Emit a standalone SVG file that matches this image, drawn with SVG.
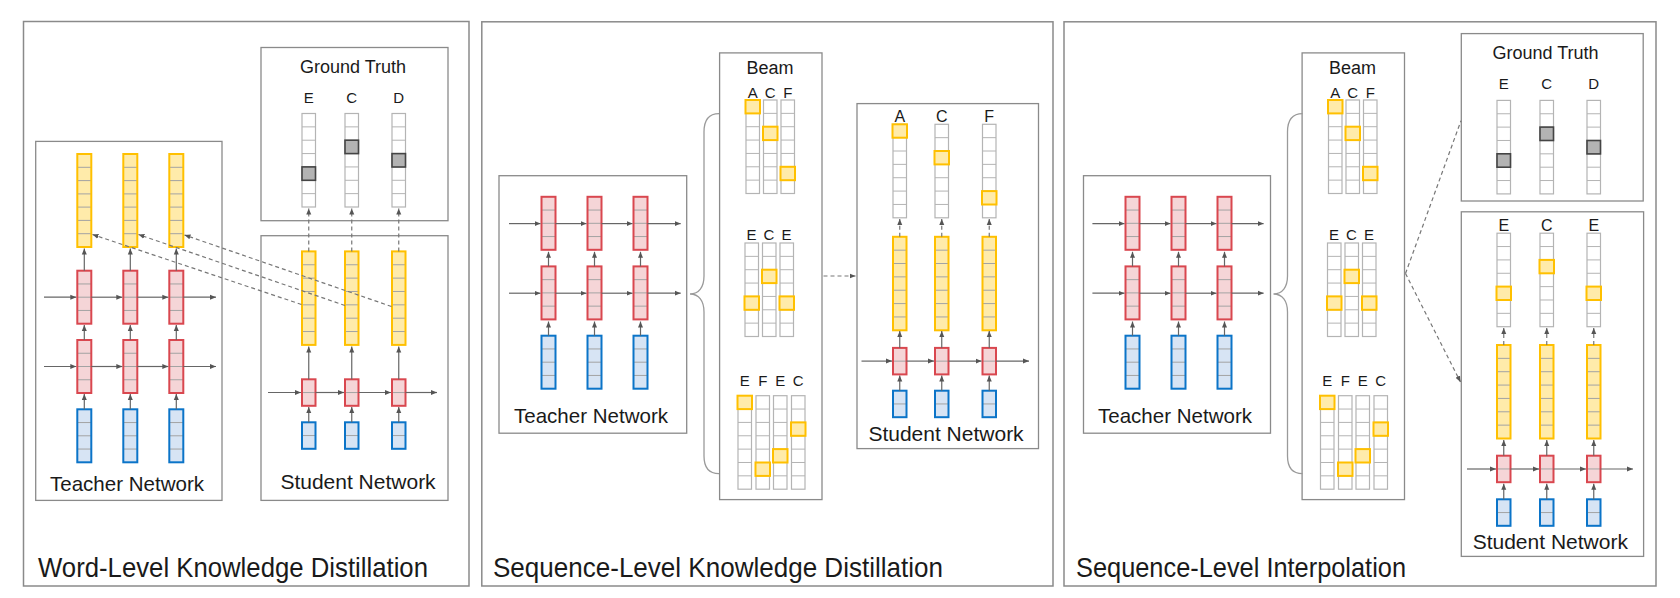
<svg xmlns="http://www.w3.org/2000/svg" xmlns:xlink="http://www.w3.org/1999/xlink" width="1680" height="598" viewBox="0 0 1680 598">
<style>
.yf{fill:#FFEBAA}.yo{fill:none;stroke:#FFC000;stroke-width:2}
.rf{fill:#F5D5D7}.ro{fill:none;stroke:#D9474F;stroke-width:2}
.bf{fill:#D7E4F4}.bo{fill:none;stroke:#0B74C8;stroke-width:2}
.cl{stroke:#a3a3a3;stroke-width:1;fill:none}
.gc{fill:#fff;stroke:#b4b4b4;stroke-width:1.2}
.gl{stroke:#b4b4b4;stroke-width:1;fill:none}
.hl{fill:#FFEBAA;stroke:#FFC000;stroke-width:2}
.gf{fill:#b3b3b3;stroke:#444;stroke-width:1.6}
.box{fill:#fff;stroke:#8a8a8a;stroke-width:1.3}
.pan{fill:#fff;stroke:#8a8a8a;stroke-width:1.5}
.arr{stroke:#666;stroke-width:1.2;fill:none;marker-end:url(#ah)}
.dash{stroke:#777;stroke-width:1.2;stroke-dasharray:4 3;fill:none}
.darr{stroke:#777;stroke-width:1.2;stroke-dasharray:4 3;fill:none;marker-end:url(#ah)}
.brace{stroke:#9a9a9a;stroke-width:1.3;fill:none}
text{font-family:"Liberation Sans",Arial,sans-serif;fill:#1a1a1a;text-anchor:middle}
.t18{font-size:18px}.t15{font-size:15px}.t16{font-size:16px}.t21{font-size:21px}
.title{font-size:28px;text-anchor:start}
</style>
<defs>
<marker id="ah" markerUnits="userSpaceOnUse" markerWidth="7" markerHeight="6" refX="6" refY="3" orient="auto"><path d="M0,0.5 L6,3 L0,5.5z" fill="#555"/></marker>
<g id="ty"><rect width="14" height="93" class="yf"/><path class="cl" d="M0 13.3H14M0 26.6H14M0 39.9H14M0 53.1H14M0 66.4H14M0 79.7H14"/><rect width="14" height="93" class="yo"/></g>
<g id="tr"><rect width="14" height="53" class="rf"/><path class="cl" d="M0 13.25H14M0 26.5H14M0 39.75H14"/><rect width="14" height="53" class="ro"/></g>
<g id="tb"><rect width="14" height="53" class="bf"/><path class="cl" d="M0 13.25H14M0 26.5H14M0 39.75H14"/><rect width="14" height="53" class="bo"/></g>
<g id="sy"><rect width="13.5" height="93.5" class="yf"/><path class="cl" d="M0 13.36H13.5M0 26.71H13.5M0 40.07H13.5M0 53.43H13.5M0 66.79H13.5M0 80.14H13.5"/><rect width="13.5" height="93.5" class="yo"/></g>
<g id="sr"><rect width="13.5" height="26.5" class="rf"/><path class="cl" d="M0 13.25H13.5"/><rect width="13.5" height="26.5" class="ro"/></g>
<g id="sb"><rect width="13.5" height="26.5" class="bf"/><path class="cl" d="M0 13.25H13.5"/><rect width="13.5" height="26.5" class="bo"/></g>
<g id="gc"><rect width="13.5" height="93.5" class="gc"/><path class="gl" d="M0 13.36H13.5M0 26.71H13.5M0 40.07H13.5M0 53.43H13.5M0 66.79H13.5M0 80.14H13.5"/></g>
<rect id="hl" x="-0.5" width="14.5" height="13.4" class="hl"/>
<rect id="gf" width="13.5" height="13.4" class="gf"/>
</defs>
<rect width="1680" height="598" fill="#fff"/>

<!-- Panel 1 -->
<g id="panel1">
<rect class="pan" x="23.5" y="21.5" width="445.5" height="564.5"/>
<text class="title" x="38" y="577" textLength="390" lengthAdjust="spacingAndGlyphs">Word-Level Knowledge Distillation</text>
</g>
<g id="p1-teacher">
<rect class="box" x="35.7" y="141.4" width="186.3" height="359"/>
<use href="#ty" x="77.3" y="154"/><use href="#ty" x="123.3" y="154"/><use href="#ty" x="169.3" y="154"/>
<use href="#tr" x="77.3" y="270.7"/><use href="#tr" x="123.3" y="270.7"/><use href="#tr" x="169.3" y="270.7"/>
<use href="#tr" x="77.3" y="340"/><use href="#tr" x="123.3" y="340"/><use href="#tr" x="169.3" y="340"/>
<use href="#tb" x="77.3" y="409.3"/><use href="#tb" x="123.3" y="409.3"/><use href="#tb" x="169.3" y="409.3"/>
<text class="t21" x="127" y="490.7" textLength="154" lengthAdjust="spacingAndGlyphs">Teacher Network</text>
</g>
<g id="p1-gt">
<rect class="box" x="261" y="47.5" width="187" height="173.2"/>
<text class="t18" x="353" y="73">Ground Truth</text>
<text class="t15" x="308.75" y="103">E</text><text class="t15" x="351.75" y="103">C</text><text class="t15" x="398.75" y="103">D</text>
<use href="#gc" x="302" y="113.5"/><use href="#gc" x="345" y="113.5"/><use href="#gc" x="392" y="113.5"/>
<use href="#gf" x="302" y="166.9"/><use href="#gf" x="345" y="140.2"/><use href="#gf" x="392" y="153.6"/>
</g>
<g id="p1-student">
<rect class="box" x="261" y="235.7" width="187" height="264.7"/>
<use href="#sy" x="302" y="251.4"/><use href="#sy" x="345" y="251.4"/><use href="#sy" x="392" y="251.4"/>
<use href="#sr" x="302" y="379.3"/><use href="#sr" x="345" y="379.3"/><use href="#sr" x="392" y="379.3"/>
<use href="#sb" x="302" y="422.3"/><use href="#sb" x="345" y="422.3"/><use href="#sb" x="392" y="422.3"/>
<text class="t21" x="358" y="489">Student Network</text>
</g>

<!-- Panel 2 -->
<g id="panel2">
<rect class="pan" x="481.8" y="21.8" width="571.2" height="564.2"/>
<text class="title" x="493" y="577" textLength="450" lengthAdjust="spacingAndGlyphs">Sequence-Level Knowledge Distillation</text>
</g>
<g id="p2-teacher">
<rect class="box" x="499" y="175.7" width="187.7" height="257.5"/>
<use href="#tr" x="541.5" y="196.8"/><use href="#tr" x="587.5" y="196.8"/><use href="#tr" x="633.5" y="196.8"/>
<use href="#tr" x="541.5" y="266.4"/><use href="#tr" x="587.5" y="266.4"/><use href="#tr" x="633.5" y="266.4"/>
<use href="#tb" x="541.5" y="335.7"/><use href="#tb" x="587.5" y="335.7"/><use href="#tb" x="633.5" y="335.7"/>
<text class="t21" x="591" y="423" textLength="154" lengthAdjust="spacingAndGlyphs">Teacher Network</text>
</g>
<g id="p2-beam">
<rect class="box" x="719.6" y="52.9" width="102.4" height="446.7"/>
<text class="t18" x="770" y="73.6">Beam</text>
<text class="t15" x="752.75" y="97.5">A</text><text class="t15" x="770.25" y="97.5">C</text><text class="t15" x="787.75" y="97.5">F</text>
<use href="#gc" x="746" y="100"/><use href="#gc" x="763.5" y="100"/><use href="#gc" x="781" y="100"/>
<use href="#hl" x="746" y="100"/><use href="#hl" x="763.5" y="126.7"/><use href="#hl" x="781" y="166.8"/>
<text class="t15" x="751.5" y="239.6">E</text><text class="t15" x="769" y="239.6">C</text><text class="t15" x="786.5" y="239.6">E</text>
<use href="#gc" x="745" y="243"/><use href="#gc" x="762.5" y="243"/><use href="#gc" x="780" y="243"/>
<use href="#hl" x="745" y="296.4"/><use href="#hl" x="762.5" y="269.7"/><use href="#hl" x="780" y="296.4"/>
<text class="t15" x="744.75" y="386">E</text><text class="t15" x="762.75" y="386">F</text><text class="t15" x="780.25" y="386">E</text><text class="t15" x="798.25" y="386">C</text>
<use href="#gc" x="738" y="395.7"/><use href="#gc" x="756" y="395.7"/><use href="#gc" x="773.5" y="395.7"/><use href="#gc" x="791.5" y="395.7"/>
<use href="#hl" x="738" y="395.7"/><use href="#hl" x="756" y="462.5"/><use href="#hl" x="773.5" y="449.1"/><use href="#hl" x="791.5" y="422.4"/>
</g>
<g id="p2-student">
<rect class="box" x="857" y="103.6" width="181.5" height="345"/>
<text class="t16" x="899.75" y="121.8">A</text><text class="t16" x="941.75" y="121.8">C</text><text class="t16" x="989.25" y="121.8">F</text>
<use href="#gc" x="893" y="124.3"/><use href="#gc" x="935" y="124.3"/><use href="#gc" x="982.5" y="124.3"/>
<use href="#hl" x="893" y="124.3"/><use href="#hl" x="935" y="151"/><use href="#hl" x="982.5" y="191.1"/>
<use href="#sy" x="893" y="236.8"/><use href="#sy" x="935" y="236.8"/><use href="#sy" x="982.5" y="236.8"/>
<use href="#sr" x="893" y="347.9"/><use href="#sr" x="935" y="347.9"/><use href="#sr" x="982.5" y="347.9"/>
<use href="#sb" x="893" y="390.7"/><use href="#sb" x="935" y="390.7"/><use href="#sb" x="982.5" y="390.7"/>
<text class="t21" x="946" y="441.4">Student Network</text>
</g>

<!-- Panel 3 -->
<g id="panel3">
<rect class="pan" x="1064" y="21.8" width="592" height="564.2"/>
<text class="title" x="1076" y="577" textLength="330" lengthAdjust="spacingAndGlyphs">Sequence-Level Interpolation</text>
</g>
<g id="p3-teacher">
<rect class="box" x="1083.5" y="175.7" width="187" height="257.5"/>
<use href="#tr" x="1125.5" y="196.8"/><use href="#tr" x="1171.5" y="196.8"/><use href="#tr" x="1217.5" y="196.8"/>
<use href="#tr" x="1125.5" y="266.4"/><use href="#tr" x="1171.5" y="266.4"/><use href="#tr" x="1217.5" y="266.4"/>
<use href="#tb" x="1125.5" y="335.7"/><use href="#tb" x="1171.5" y="335.7"/><use href="#tb" x="1217.5" y="335.7"/>
<text class="t21" x="1175" y="423" textLength="154" lengthAdjust="spacingAndGlyphs">Teacher Network</text>
</g>
<g id="p3-beam">
<rect class="box" x="1302.1" y="52.9" width="102.4" height="446.7"/>
<text class="t18" x="1352.5" y="73.6">Beam</text>
<text class="t15" x="1335.25" y="97.5">A</text><text class="t15" x="1352.75" y="97.5">C</text><text class="t15" x="1370.25" y="97.5">F</text>
<use href="#gc" x="1328.5" y="100"/><use href="#gc" x="1346" y="100"/><use href="#gc" x="1363.5" y="100"/>
<use href="#hl" x="1328.5" y="100"/><use href="#hl" x="1346" y="126.7"/><use href="#hl" x="1363.5" y="166.8"/>
<text class="t15" x="1334" y="239.6">E</text><text class="t15" x="1351.5" y="239.6">C</text><text class="t15" x="1369" y="239.6">E</text>
<use href="#gc" x="1327.5" y="243"/><use href="#gc" x="1345" y="243"/><use href="#gc" x="1362.5" y="243"/>
<use href="#hl" x="1327.5" y="296.4"/><use href="#hl" x="1345" y="269.7"/><use href="#hl" x="1362.5" y="296.4"/>
<text class="t15" x="1327.25" y="386">E</text><text class="t15" x="1345.25" y="386">F</text><text class="t15" x="1362.75" y="386">E</text><text class="t15" x="1380.75" y="386">C</text>
<use href="#gc" x="1320.5" y="395.7"/><use href="#gc" x="1338.5" y="395.7"/><use href="#gc" x="1356" y="395.7"/><use href="#gc" x="1374" y="395.7"/>
<use href="#hl" x="1320.5" y="395.7"/><use href="#hl" x="1338.5" y="462.5"/><use href="#hl" x="1356" y="449.1"/><use href="#hl" x="1374" y="422.4"/>
</g>
<g id="p3-gt">
<rect class="box" x="1461.3" y="33.6" width="181.9" height="167.4"/>
<text class="t18" x="1545.6" y="58.6">Ground Truth</text>
<text class="t15" x="1503.75" y="89">E</text><text class="t15" x="1546.75" y="89">C</text><text class="t15" x="1593.75" y="89">D</text>
<use href="#gc" x="1497" y="100.4"/><use href="#gc" x="1540" y="100.4"/><use href="#gc" x="1587" y="100.4"/>
<use href="#gf" x="1497" y="153.8"/><use href="#gf" x="1540" y="127.1"/><use href="#gf" x="1587" y="140.5"/>
</g>
<g id="p3-student">
<rect class="box" x="1461.3" y="211.8" width="182.3" height="344.6"/>
<text class="t16" x="1503.75" y="230.7">E</text><text class="t16" x="1546.75" y="230.7">C</text><text class="t16" x="1593.75" y="230.7">E</text>
<use href="#gc" x="1497" y="233.2"/><use href="#gc" x="1540" y="233.2"/><use href="#gc" x="1587" y="233.2"/>
<use href="#hl" x="1497" y="286.6"/><use href="#hl" x="1540" y="259.9"/><use href="#hl" x="1587" y="286.6"/>
<use href="#sy" x="1497" y="345"/><use href="#sy" x="1540" y="345"/><use href="#sy" x="1587" y="345"/>
<use href="#sr" x="1497" y="455.7"/><use href="#sr" x="1540" y="455.7"/><use href="#sr" x="1587" y="455.7"/>
<use href="#sb" x="1497" y="499.3"/><use href="#sb" x="1540" y="499.3"/><use href="#sb" x="1587" y="499.3"/>
<text class="t21" x="1550.3" y="549">Student Network</text>
</g>

<g id="connectors">
<!-- panel 1 teacher -->
<path class="arr" d="M44 297.2H76.3"/><path class="arr" d="M91.3 297.2H122.3"/><path class="arr" d="M137.3 297.2H168.3"/><path class="arr" d="M183.3 297.2H216"/>
<path class="arr" d="M44 366.5H76.3"/><path class="arr" d="M91.3 366.5H122.3"/><path class="arr" d="M137.3 366.5H168.3"/><path class="arr" d="M183.3 366.5H216"/>
<path class="arr" d="M84.3 409.3V394"/><path class="arr" d="M130.3 409.3V394"/><path class="arr" d="M176.3 409.3V394"/>
<path class="arr" d="M84.3 340V325"/><path class="arr" d="M130.3 340V325"/><path class="arr" d="M176.3 340V325"/>
<path class="arr" d="M84.3 270.7V248.5"/><path class="arr" d="M130.3 270.7V248.5"/><path class="arr" d="M176.3 270.7V248.5"/>
<!-- panel 1 student -->
<path class="arr" d="M268 392.5H301"/><path class="arr" d="M315.5 392.5H344"/><path class="arr" d="M358.5 392.5H391"/><path class="arr" d="M405.5 392.5H437"/>
<path class="arr" d="M308.75 422.3V407"/><path class="arr" d="M351.75 422.3V407"/><path class="arr" d="M398.75 422.3V407"/>
<path class="arr" d="M308.75 379.3V346.5"/><path class="arr" d="M351.75 379.3V346.5"/><path class="arr" d="M398.75 379.3V346.5"/>
<path class="darr" d="M308.75 251.4V208.5"/><path class="darr" d="M351.75 251.4V208.5"/><path class="darr" d="M398.75 251.4V208.5"/>
<path class="darr" d="M301.5 304.5L92.5 234.5"/><path class="darr" d="M345 305.5L138.5 234.5"/><path class="darr" d="M391.5 306.5L184.5 235"/>
<!-- panel 2 -->
<path class="arr" d="M509 223.6H540.5"/><path class="arr" d="M555.5 223.6H586.5"/><path class="arr" d="M601.5 223.6H632.5"/><path class="arr" d="M647.5 223.6H680.7"/>
<path class="arr" d="M509 293.2H540.5"/><path class="arr" d="M555.5 293.2H586.5"/><path class="arr" d="M601.5 293.2H632.5"/><path class="arr" d="M647.5 293.2H680.7"/>
<path class="arr" d="M548.5 335.7V321.5"/><path class="arr" d="M594.5 335.7V321.5"/><path class="arr" d="M640.5 335.7V321.5"/>
<path class="arr" d="M548.5 266.4V251.8"/><path class="arr" d="M594.5 266.4V251.8"/><path class="arr" d="M640.5 266.4V251.8"/>
<path class="brace" d="M719 113.6C709 113.6 704 119 704 132V276C704 287 699 294 690 294C699 294 704 301 704 312V456C704 468 709 473.6 719 473.6"/>
<path class="darr" d="M823.5 276H855.5"/>
<path class="arr" d="M861.5 361.1H892"/><path class="arr" d="M906.5 361.1H934"/><path class="arr" d="M948.5 361.1H981.5"/><path class="arr" d="M996 361.1H1029"/>
<path class="arr" d="M899.75 390.7V375.5"/><path class="arr" d="M941.75 390.7V375.5"/><path class="arr" d="M989.25 390.7V375.5"/>
<path class="arr" d="M899.75 347.9V331"/><path class="arr" d="M941.75 347.9V331"/><path class="arr" d="M989.25 347.9V331"/>
<path class="darr" d="M899.75 236.8V219"/><path class="darr" d="M941.75 236.8V219"/><path class="darr" d="M989.25 236.8V219"/>
<!-- panel 3 -->
<path class="arr" d="M1092.4 223.6H1124.5"/><path class="arr" d="M1139.5 223.6H1170.5"/><path class="arr" d="M1185.5 223.6H1216.5"/><path class="arr" d="M1231.5 223.6H1263.6"/>
<path class="arr" d="M1092.4 293.2H1124.5"/><path class="arr" d="M1139.5 293.2H1170.5"/><path class="arr" d="M1185.5 293.2H1216.5"/><path class="arr" d="M1231.5 293.2H1263.6"/>
<path class="arr" d="M1132.5 335.7V321.5"/><path class="arr" d="M1178.5 335.7V321.5"/><path class="arr" d="M1224.5 335.7V321.5"/>
<path class="arr" d="M1132.5 266.4V251.8"/><path class="arr" d="M1178.5 266.4V251.8"/><path class="arr" d="M1224.5 266.4V251.8"/>
<path class="brace" d="M1302.5 113.6C1292.5 113.6 1287.5 119 1287.5 132V276C1287.5 287 1282.5 294 1273.5 294C1282.5 294 1287.5 301 1287.5 312V456C1287.5 468 1292.5 473.6 1302.5 473.6"/>
<path class="dash" d="M1405.5 273.5L1461 120.7"/>
<path class="darr" d="M1405.5 273.5L1460.5 382"/>
<path class="arr" d="M1467 469H1496"/><path class="arr" d="M1510.5 469H1539"/><path class="arr" d="M1553.5 469H1586"/><path class="arr" d="M1600.5 469H1633"/>
<path class="arr" d="M1503.75 499.3V483.7"/><path class="arr" d="M1546.75 499.3V483.7"/><path class="arr" d="M1593.75 499.3V483.7"/>
<path class="arr" d="M1503.75 455.7V440"/><path class="arr" d="M1546.75 455.7V440"/><path class="arr" d="M1593.75 455.7V440"/>
<path class="darr" d="M1503.75 345V328"/><path class="darr" d="M1546.75 345V328"/><path class="darr" d="M1593.75 345V328"/>
</g>
</svg>
